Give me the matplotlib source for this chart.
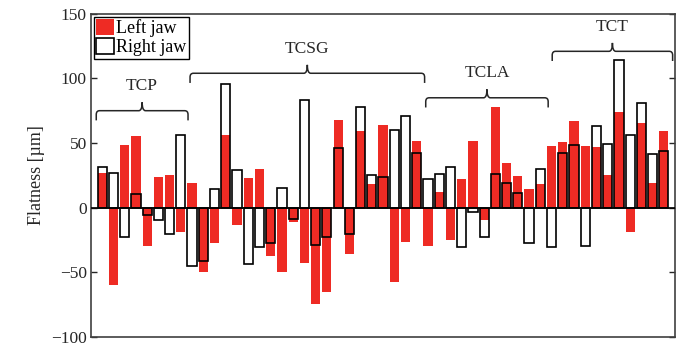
import numpy as np
import matplotlib
matplotlib.use("Agg")
import matplotlib.pyplot as plt
from matplotlib.path import Path
from matplotlib.patches import PathPatch, Patch

plt.rcParams['font.family'] = ['Liberation Serif', 'DejaVu Serif']

# flatness per jaw, um (51 collimators)
left_jaw = [26.4, -60, 48.8, 55.1, -29.5, 23.9, 25.2, -19.3,
            18.8, -49.8, -27.4, 56.4, -13.5, 22.6, 30.2, -37.6, -50, -11, -43.2,
            -75, -65.5, 67.8, -36.3, 59.5, 18.3, 64, -57.9, -26.7, 51.3,
            -30, 11.7, -25.4, 22.1, 51.3, -9.7, 77.5, 34.3, 24.6, 14, 18.3,
            48, 50.6, 67, 48, 46.7, 25.2, 73.7, -19.3, 65.8, 18.8, 59.5]
right_jaw = [31.5, 26.7, -22.9, 10.4, -5.8, -9.9, -20.3, 56.4,
             -45.2, -41.4, 14.5, 95.5, 29, -43.4, -30.5, -27.4, 15.2, -9, 83,
             -28.7, -22.9, 46.2, -20.3, 77.5, 25.2, 23.9, 60.2, 71.1, 42.4,
             22.1, 25.9, 31, -30.5, -3.3, -22.9, 25.9, 18.8, 11.2, -27.4, 30.2,
             -30.5, 42.4, 48.3, -30, 62.8, 49.3, 114, 55.9, 81, 41.7, 43.7]

groups = ['TCP', 'TCSG', 'TCLA', 'TCT']
# bracket spans (x) and heights (y) as drawn in the original
brace_x = [(0.47, 8.64), (8.82, 29.7), (29.8, 40.7), (41.06, 51.78)]
brace_y = [75, 104, 85, 121]

x = np.arange(1, len(left_jaw) + 1)
red = '#ee2b24'

fig = plt.figure(figsize=(6.84, 3.47), dpi=100)
ax = fig.add_axes([0.133, 0.03, 0.854, 0.93])

ax.bar(x, left_jaw, width=0.82, color=red, zorder=2)
ax.bar(x, right_jaw, width=0.82, facecolor='none', edgecolor='k', linewidth=1.2, zorder=3)
ax.axhline(0, color='k', linewidth=1.2, zorder=4)


def brace(x0, x1, y, label):
    xm = (x0 + x1) / 2
    d, ry, rx, tip = 7.5, 3.0, 0.3, 6.5
    verts = [(x0, y - d), (x0, y - ry), (x0, y), (x0 + rx, y),
             (xm - 0.3, y), (xm, y), (xm, y + tip),
             (xm, y), (xm + 0.3, y),
             (x1 - rx, y), (x1, y), (x1, y - ry), (x1, y - d)]
    codes = [Path.MOVETO, Path.LINETO, Path.CURVE3, Path.CURVE3,
             Path.LINETO, Path.CURVE3, Path.CURVE3,
             Path.CURVE3, Path.CURVE3,
             Path.LINETO, Path.CURVE3, Path.CURVE3, Path.LINETO]
    ax.add_patch(PathPatch(Path(verts, codes), facecolor='none',
                           edgecolor='0.15', linewidth=1.1, zorder=5))
    ax.text(xm, y + 19, label, ha='center', va='center', fontsize=12.5, color='0.15')


for (x0, x1), y, g in zip(brace_x, brace_y, groups):
    brace(x0, x1, y, g)

ax.set_xlim(0, 52)
ax.set_ylim(-100, 150)
ax.set_yticks([-100, -50, 0, 50, 100, 150])
ax.set_yticklabels(['\u2212100', '\u221250', '0', '50', '100', '150'])
ax.set_xticks([])
ax.tick_params(axis='y', direction='in', length=4, width=1, labelsize=12.5,
               right=True, pad=3, colors='0.15')
for s in ax.spines.values():
    s.set_color('0.25')
    s.set_linewidth(1.2)
ax.set_ylabel('Flatness [\u00b5m]', fontsize=13, labelpad=4, color='0.15')

handles = [Patch(facecolor=red, edgecolor='none', label='Left jaw'),
           Patch(facecolor='white', edgecolor='k', linewidth=1.2, label='Right jaw')]
leg = ax.legend(handles=handles, loc='upper left', fontsize=13, frameon=True,
                fancybox=False, framealpha=1, edgecolor='k',
                handlelength=0.95, handleheight=0.95, handletextpad=0.15,
                borderpad=0.15, labelspacing=0.05, borderaxespad=0.15)
leg.get_frame().set_linewidth(1.0)
leg.set_zorder(6)

fig.savefig('out.png', dpi=100)
